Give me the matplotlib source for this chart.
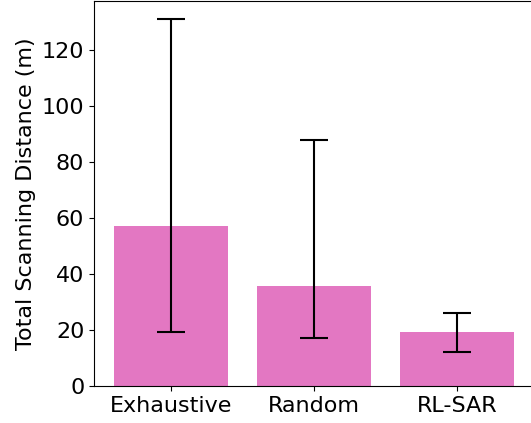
import matplotlib
matplotlib.use("Agg")
from matplotlib import pyplot as plt
import numpy as np

# scanning distance per method
methods = ["Exhaustive", "Random", "RL-SAR"]
means = [57.0, 35.7, 19.3]
err_low = [19.3, 17.1, 12.1]
err_high = [131.0, 87.9, 26.1]

means = np.array(means)
yerr = np.array([means - np.array(err_low), np.array(err_high) - means])

fig = plt.figure(figsize=(5.31, 4.23), dpi=100)
ax = fig.add_axes([0.177, 0.0875, 0.829, 0.910])

x = np.arange(len(methods))
ax.bar(x, means, width=0.8, color="#e377c2")
ax.errorbar(x, means, yerr=yerr, fmt="none", ecolor="black", elinewidth=1.5,
            capsize=10, capthick=1.5)

ax.set_xticks(x)
ax.set_xticklabels(methods, fontsize=16)
ax.tick_params(axis="y", labelsize=16)
ax.set_ylabel("Total Scanning Distance (m)", fontsize=16)
ax.set_xlim(-0.54, 2.54)

fig.savefig("out.png", dpi=100)
